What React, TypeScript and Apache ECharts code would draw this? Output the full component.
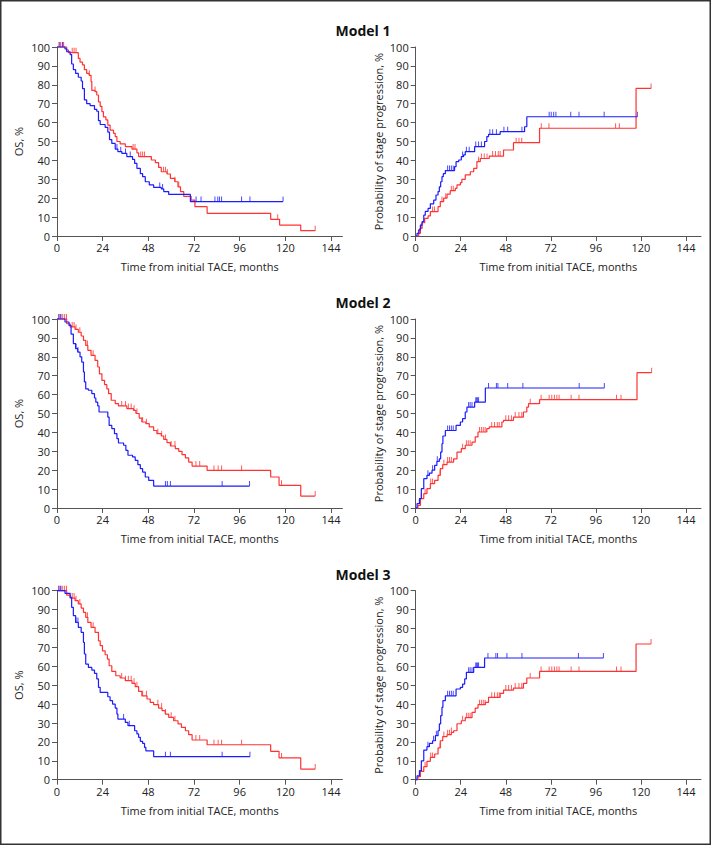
import React, { useEffect, useRef } from "react";
import * as echarts from "echarts";

// ---------- texts & ticks ----------
const TITLES = ["Model 1", "Model 2", "Model 3"];
const OS_NAME = "OS, %";
const PROG_NAME = "Probability of stage progression, %";
const X_NAME = "Time from initial TACE, months";
const X_TICKS = [0, 24, 48, 72, 96, 120, 144];

// ---------- Model 1 ----------
const m1OsBlue = [[0,100],[4.2,99],[5.1,97.5],[6.9,96],[7.7,91],[8.6,88],[9.8,86],[11.2,84],[12.7,82],[13.4,78],[14.4,72],[15.6,70],[17.4,69],[19.7,67],[20.9,66],[21.8,61],[22.7,59],[25.3,57.5],[26.7,55],[27.6,51],[28.8,49],[30.6,46],[32,44.6],[34.1,43.7],[36.7,42],[39.7,40.5],[40.8,38.4],[42,35.8],[43.8,33],[45,31.4],[46.4,28.7],[48.5,27],[50.8,25.7],[54.8,24.9],[56.1,23.5],[58.7,22],[70.1,18.2],[118.8,18.2]];
const m1OsBlueCens = [1.5,3,31.5,33.5,36,38.5,54,55.5,73.1,75.7,83,84.5,85.4,86.5,97,101.4,118.8];
const m1OsRed = [[0,100],[5.1,98.4],[6,97],[11.2,94],[12.1,92],[13.4,90.5],[14.4,88],[15.6,86],[16.9,85],[17.9,81.7],[18.3,77],[20,76.4],[20.9,74.6],[21.8,71],[22.7,68.6],[23.6,65.8],[24.4,63],[25.7,61.4],[26.7,58.7],[27.9,56],[29.7,54.3],[30.6,52.6],[31.5,50],[33.2,48.7],[35.9,47.3],[39.4,46],[42,44],[42.9,42],[49.6,40.2],[51.7,38.8],[53.4,36.3],[54.8,34],[57.8,32.8],[59.6,30.5],[61.9,28.7],[63.6,26],[64.9,23.5],[66.6,21],[70.5,19],[72.5,15.5],[78.9,12],[112.3,8.8],[117,5.8],[128.1,2.8],[135.7,2.8]];
const m1OsRedCens = [1,2,3,3.5,8,9,10,17,20,40,41,44,45,46,56,57,58,62,64,116,135.7];
const m1PrBlue = [[0,0],[0.7,1.4],[1.6,3.2],[2.5,5.8],[3.4,7.6],[4.3,11],[5.1,13],[6.6,14.6],[7.8,17],[9.6,19],[10.8,21.7],[11.9,23.5],[12.6,26],[13.3,28.7],[14,31.4],[14.7,33],[15.8,34.6],[20.7,36.7],[21.5,39.3],[22.9,40.2],[24.3,42],[25.5,42.9],[26.4,44.6],[31.4,47.3],[36.7,50],[37.9,52.6],[38.8,53.8],[45,55.2],[58,57.8],[59.2,63.1],[118.1,63.1]];
const m1PrBlueCens = [17,18,19,20,25,27,28.5,32,33.5,35,39.5,41,43,47,49,56.6,71.1,72.2,73.5,74.7,82.6,87,100.4,118.1];
const m1PrRed = [[0,0],[1.6,1.4],[2.5,4],[3.4,7],[4.8,9.3],[6.6,10.6],[7.8,12.9],[11.9,15.5],[13.1,18.2],[14.9,20],[16.7,22.2],[18.4,24],[21.1,25.2],[22,27],[23.8,28.2],[24.6,30],[26.4,32.3],[29.1,34],[30.9,35.8],[32.6,39.3],[34.4,41],[39.2,42.3],[46.8,45.5],[52.1,49.4],[66,57],[117.4,78.1],[125.4,78.1]];
const m1PrRedCens = [2,3,9,10,14,16,19,20,33.5,35,36.5,38,41,42.5,44,45,53.5,55,56.5,66.9,71,106.5,108.5,125.4];

// ---------- Model 2 ----------
const m2OsBlue = [[0,100],[4.2,98.4],[6.3,96.6],[7.4,92],[8.6,87],[9.8,84.3],[10.9,82.5],[12.1,80],[13,77.2],[13.9,72],[14.4,66.7],[15.1,63],[16.5,62.3],[18.3,60.5],[19.7,58.2],[20.4,56],[21.4,54],[22.1,50.8],[26.7,48.1],[27.4,43.7],[28.8,42],[30.2,39.3],[31.5,36.7],[32.3,34.4],[35,33.2],[36.2,30.5],[37.3,27.9],[39.7,27],[41.1,25.2],[42.5,22.9],[43.8,20.8],[45,19],[46.4,16.4],[48.2,14.6],[50.8,11.6],[101.2,11.6]];
const m2OsBlueCens = [1,2,10,11,57,58,59.6,86.8,101.2];
const m2OsRed = [[0,100],[5.1,97.5],[6.9,95.8],[9.5,94.5],[11.2,93],[12.7,91],[13.9,88.7],[15.1,86],[16.2,83.4],[17.9,80.8],[20,78.1],[21.4,74.6],[22.3,71],[23.6,67.5],[25,65.3],[26.2,63],[27.1,60.5],[28.5,57],[30.6,55.2],[32.3,54],[36.7,52.6],[40.2,51.7],[41.5,50],[43.2,47.6],[44.6,45.5],[46.7,44.6],[48.5,42.9],[50.8,41],[52.5,39.3],[54.8,38.1],[56.1,36.3],[57.8,34.6],[59.6,32.8],[62.2,31.4],[64,30],[65.7,28.2],[67.5,26.5],[69.2,24.3],[71,22.2],[78.9,19.9],[112.3,16.4],[116.7,12],[128.1,6.3],[135.7,6.3]];
const m2OsRedCens = [1,2,3,4,5,8,9,10,12,16,19,34,36,37.5,39,40.5,42,45,47,53,55,57,60,62,73,75,82.5,84.7,86.5,97,118,135.7];
const m2PrBlue = [[0,0],[0.7,2.3],[2,5],[3,10.2],[4.3,15.5],[6,17.3],[7.3,18.5],[8.7,20],[10.1,22.6],[11.3,24.7],[12.6,26],[13.3,29.6],[14,34],[14.5,38.1],[15.8,41],[21.5,43.7],[23.8,45.5],[25,47.3],[26.4,50.8],[27.3,53.4],[31.4,56],[37.1,63.5],[100.5,63.5]];
const m2PrBlueCens = [6.5,9,11.5,17,18,19,20,28.2,29,30,32,32.5,33,33.5,38.8,43,43.8,49,57.1,87.1,100.5];
const m2PrRed = [[0,0],[1.2,1.4],[2.5,5],[4.3,7.6],[6,10.2],[7.8,12.9],[10.1,14.6],[11.9,17.3],[13.1,20.8],[14.4,22.9],[16.7,24.3],[20.2,26],[22,29.6],[24.3,31.4],[26.4,33.2],[30,34.9],[31.7,37.6],[33.2,40.2],[37.9,42],[39.2,42.9],[45.9,45.5],[46.8,46.4],[52.1,48.1],[57.4,50.8],[59.2,53.4],[60.1,55.2],[66,57.3],[117.9,71.6],[125.7,71.6]];
const m2PrRedCens = [3,5,8,9,13,15,17,18,19,25,27,28,29,34,35,36,37,40.5,42,43.5,44.5,48,49.5,51,53,55,56.5,61,66.8,71.1,72.5,73.9,75.2,76.4,82.8,87,107,109.4,125.7];

// ---------- Model 3 ----------
const m3OsBlue = [[0,100],[4.2,98.6],[6.9,96.5],[7.7,91.2],[8.6,86.8],[9.8,83.2],[11.2,80.6],[12.7,78],[13.9,72.7],[14.4,66.5],[15.1,61.2],[16.5,59.4],[18.3,58],[19.7,56.3],[20.9,53.3],[21.8,48.9],[22.7,46.2],[26.7,43.9],[27.9,41.8],[29.2,40],[30.6,37.9],[31.5,34.7],[32,32.1],[35.9,30.3],[37.3,28.6],[40.8,25.9],[42,24.2],[42.9,22.4],[43.8,20.3],[45,19.2],[46,17.1],[46.7,15.3],[50.8,12.2],[101.4,12.2]];
const m3OsBlueCens = [1,2,10,11,35,38,57,59.6,86.8,101.4];
const m3OsRed = [[0,100],[5.1,97.7],[6.9,96.1],[9.5,94.7],[11.2,93],[12.7,90.8],[13.9,88.5],[15.1,85.9],[16.2,83.2],[17.9,80.6],[20,78],[21.8,73.5],[22.7,70.9],[23.9,68.2],[25.3,66.1],[26.5,63.8],[27.4,60.3],[28.8,57.3],[30.9,55],[33.2,53.8],[35.9,52.4],[39.4,51],[41.1,49.2],[42.9,46.7],[44.6,44.4],[47.3,42.7],[49,40.9],[50.8,39.7],[53.4,37.9],[55.2,36.5],[56.9,34.7],[58.7,33],[61.3,31.2],[63.6,29.5],[65.4,27.7],[67.5,25.9],[69.2,23.8],[71,21],[78.9,18.5],[112.3,15],[116.7,11.5],[128.1,5.6],[135.7,5.6]];
const m3OsRedCens = [1,2,3,4,5,8,9,10,12,16,19,34,36,37.5,39,40.5,42,45,47,53,55,57,60,62,73,75,82.5,84.7,86.5,97,118,135.7];
const m3PrBlue = [[0,0],[0.7,2.1],[2,4.8],[3,10],[4.3,15.7],[6,17.5],[7.3,19.2],[9,20.6],[10.5,23.3],[11.9,25.9],[12.6,29.5],[13.3,33.9],[14,38.3],[14.5,41.8],[15.8,44.4],[21.5,48],[23.8,48.9],[25,50.6],[26.1,53.3],[27,56.8],[30.9,59.4],[36.7,64.4],[100,64.4]];
const m3PrBlueCens = [6.5,9.5,11,17,18,19,20,28.2,29,30,32,32.5,33,33.5,38.5,42.7,43.6,48.6,56.6,86.7,100];
const m3PrRed = [[0,0],[1.2,1.6],[2.5,4.4],[4.3,6.9],[6,9.7],[7.8,11.8],[10.1,13.6],[11.9,16.8],[13.1,20.6],[14.4,22.8],[16.7,23.8],[19,25],[20.2,25.9],[22,29.6],[24.3,31.2],[26.4,32.8],[30,35.6],[31.7,37.9],[33.2,39.7],[37.1,40.9],[38.8,43.6],[45,45.7],[46.8,47.4],[52.1,48.5],[57.4,51],[59.2,53.8],[66,57.3],[117.4,71.8],[125.4,71.8]];
const m3PrRedCens = [3,5,8,9,13,15,17,18,19,25,27,28,29,34,35,36,37,40.5,42,43.5,44.5,48,49.5,51,53,55,56.5,61,66.8,71.1,72.5,73.9,75.2,76.4,82.8,87,107,109.4,125.4];

const BLUE = "#1c1cff";
const RED = "#ff3333";
const AXIS = "#555";
const TXT = "#222";
const FONT = '"Open Sans", "Noto Sans", sans-serif';

function valueAt(curve: number[][], t: number) {
  let v = curve[0][1];
  for (const p of curve) {
    if (p[0] <= t + 1e-9) v = p[1];
    else break;
  }
  return v;
}

const PANELS = [
  { row: 0, col: 0, blue: m1OsBlue, red: m1OsRed, bc: m1OsBlueCens, rc: m1OsRedCens, yName: OS_NAME },
  { row: 0, col: 1, blue: m1PrBlue, red: m1PrRed, bc: m1PrBlueCens, rc: m1PrRedCens, yName: PROG_NAME },
  { row: 1, col: 0, blue: m2OsBlue, red: m2OsRed, bc: m2OsBlueCens, rc: m2OsRedCens, yName: OS_NAME },
  { row: 1, col: 1, blue: m2PrBlue, red: m2PrRed, bc: m2PrBlueCens, rc: m2PrRedCens, yName: PROG_NAME },
  { row: 2, col: 0, blue: m3OsBlue, red: m3OsRed, bc: m3OsBlueCens, rc: m3OsRedCens, yName: OS_NAME },
  { row: 2, col: 1, blue: m3PrBlue, red: m3PrRed, bc: m3PrBlueCens, rc: m3PrRedCens, yName: PROG_NAME },
];

const ROW_TOP = [47, 319, 590.7];
const ROW_H = 189;
const COL = [
  { left: 57, width: 285.4, max: 150, nameGap: 33 },
  { left: 415.7, width: 285.3, max: 152, nameGap: 32 },
];

export default function App() {
  const ref = useRef<HTMLDivElement>(null);
  useEffect(() => {
    if (!ref.current) return;
    const chart = echarts.init(ref.current, null, { renderer: "svg" });
    const grid: any[] = [];
    const xAxis: any[] = [];
    const yAxis: any[] = [];
    const series: any[] = [];
    PANELS.forEach((p, i) => {
      const c = COL[p.col];
      grid.push({ left: c.left, top: ROW_TOP[p.row], width: c.width, height: ROW_H, containLabel: false });
      xAxis.push({
        gridIndex: i, type: "value", min: 0, max: c.max, interval: 24,
        axisLine: { show: true, onZero: false, lineStyle: { color: AXIS, width: 1 } },
        axisTick: { show: true, length: 5, customValues: X_TICKS, lineStyle: { color: AXIS } },
        axisLabel: { customValues: X_TICKS, fontSize: 11, color: TXT, margin: 6, fontFamily: FONT },
        splitLine: { show: false },
        name: X_NAME, nameLocation: "middle", nameGap: 25,
        nameTextStyle: { fontSize: 11, color: TXT, fontFamily: FONT },
      });
      yAxis.push({
        gridIndex: i, type: "value", min: 0, max: 100, interval: 10,
        axisLine: { show: true, lineStyle: { color: AXIS, width: 1 } },
        axisTick: { show: true, length: 5, lineStyle: { color: AXIS } },
        axisLabel: { fontSize: 11, color: TXT, margin: 7, fontFamily: FONT },
        splitLine: { show: false },
        name: p.yName, nameLocation: "middle", nameGap: c.nameGap,
        nameTextStyle: { fontSize: 11, color: TXT, fontFamily: FONT },
      });
      const lines: [number[][], number[], string][] = [[p.red, p.rc, RED], [p.blue, p.bc, BLUE]];
      lines.forEach(([curve, cens, color]) => {
        series.push({
          type: "line", xAxisIndex: i, yAxisIndex: i, data: curve, step: "end",
          showSymbol: false, symbol: "none", clip: false,
          lineStyle: { color, width: 1.2 }, silent: true,
        });
        series.push({
          type: "scatter", xAxisIndex: i, yAxisIndex: i, clip: false,
          data: cens.map((t) => [t, valueAt(curve, t)]),
          symbol: "rect", symbolSize: [1, 5], symbolOffset: [0, -2.5],
          itemStyle: { color }, silent: true,
        });
      });
    });
    const graphic: any[] = [
      {
        type: "rect", shape: { x: 0.75, y: 0.75, width: 709.5, height: 843.5 },
        style: { fill: "none", stroke: "#333", lineWidth: 1.5 }, silent: true,
      },
    ];
    TITLES.forEach((t, r) => {
      graphic.push({
        type: "text", x: 363, y: ROW_TOP[r] - 16.5,
        style: { text: t, fill: "#111", fontSize: 14, fontWeight: "bold", fontFamily: FONT, align: "center", verticalAlign: "middle" },
      });
    });
    chart.setOption({ animation: false, backgroundColor: "#fff", grid, xAxis, yAxis, series, graphic });
    return () => chart.dispose();
  }, []);
  return <div ref={ref} style={{ position: "absolute", left: 0, top: 0, width: 713, height: 846 }} />;
}
